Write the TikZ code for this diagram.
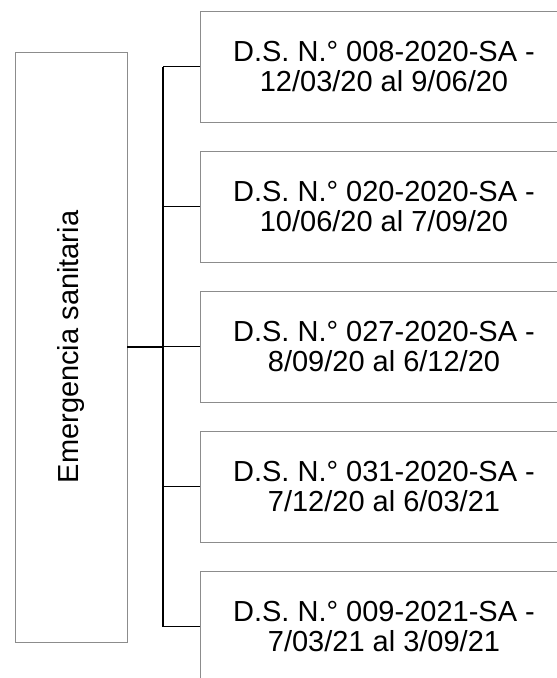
\documentclass[tikz,border=0pt]{standalone}
\usepackage{fontspec}
\setmainfont{Liberation Sans}

\tikzset{
  raiz/.style={draw=black!45, line width=0.8pt, minimum width=590pt, minimum height=112pt,
    inner sep=0pt, font=\fontsize{29}{30}\selectfont},
  decreto/.style={draw=black!45, line width=0.8pt, minimum width=368pt, minimum height=111pt,
    inner sep=0pt, align=center, font=\fontsize{29}{30}\selectfont},
  tronco/.style={line width=1.8pt},
  rama/.style={line width=1.2pt}
}

\begin{document}
\begin{tikzpicture}[x=1pt,y=-1pt]
  \clip (0,0) rectangle (557,678);
  % left box
  \node[raiz, rotate=90] (raiz) at (71,347) {Emergencia sanitaria};
  % decrees
  \foreach \i/\txt in {1/{D.S. N.° 008-2020-SA -\\12/03/20 al 9/06/20},
                       2/{D.S. N.° 020-2020-SA -\\10/06/20 al 7/09/20},
                       3/{D.S. N.° 027-2020-SA -\\8/09/20 al 6/12/20},
                       4/{D.S. N.° 031-2020-SA -\\7/12/20 al 6/03/21},
                       5/{D.S. N.° 009-2021-SA -\\7/03/21 al 3/09/21}}
    \node[decreto] (d\i) at (384,{66.5+140*(\i-1)}) {\txt};

  % connectors
  \coordinate (fork) at (163,347);
  \draw[tronco] (raiz.south) -- (fork);
  \draw[tronco] (d1.west -| fork) -- (d5.west -| fork);
  \foreach \i in {1,...,5}
    \draw[rama] (d\i.west -| fork) -- (d\i.west);
\end{tikzpicture}
\end{document}
